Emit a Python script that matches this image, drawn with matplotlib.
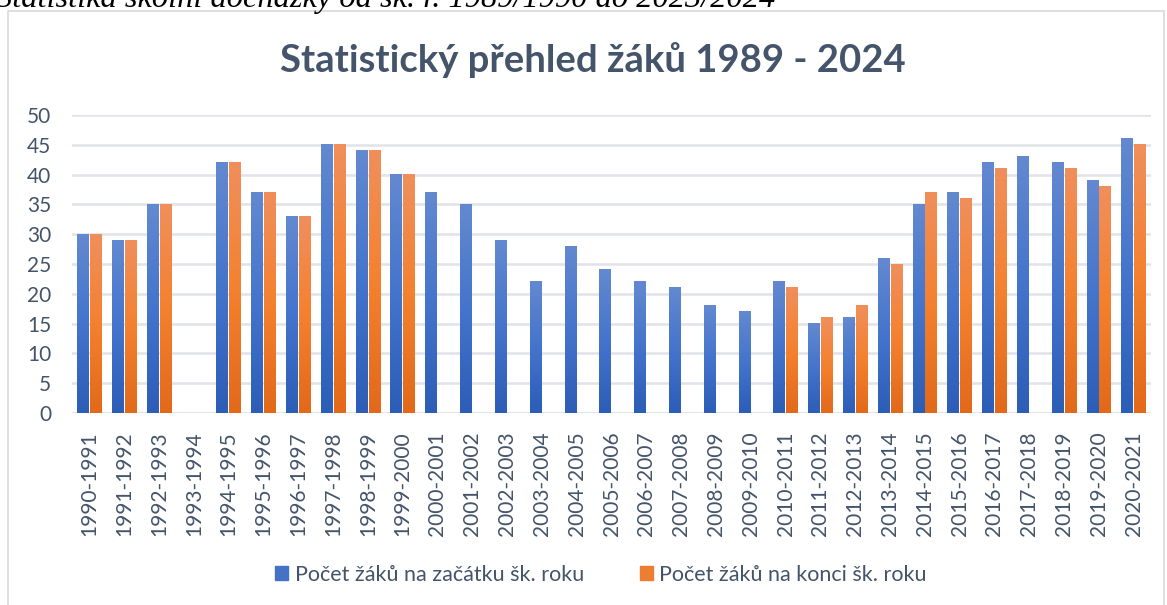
import numpy as np
import matplotlib.pyplot as plt
from matplotlib.patches import Rectangle
from matplotlib.colors import LinearSegmentedColormap

# school years
roky = ['1990-1991', '1991-1992', '1992-1993', '1993-1994', '1994-1995', '1995-1996',
        '1996-1997', '1997-1998', '1998-1999', '1999-2000', '2000-2001', '2001-2002',
        '2002-2003', '2003-2004', '2004-2005', '2005-2006', '2006-2007', '2007-2008',
        '2008-2009', '2009-2010', '2010-2011', '2011-2012', '2012-2013', '2013-2014',
        '2014-2015', '2015-2016', '2016-2017', '2017-2018', '2018-2019', '2019-2020',
        '2020-2021']
nan = np.nan
zacatek = [30, 29, 35, nan, 42, 37, 33, 45, 44, 40, 37, 35, 29, 22, 28, 24, 22, 21,
           18, 17, 22, 15, 16, 26, 35, 37, 42, 43, 42, 39, 46]
konec = [30, 29, 35, nan, 42, 37, 33, 45, 44, 40, nan, nan, nan, nan, nan, nan, nan, nan,
         nan, nan, 21, 16, 18, 25, 37, 36, 41, nan, 41, 38, 45]

lbl_zacatek = 'Počet žáků na začátku šk. roku'
lbl_konec = 'Počet žáků na konci šk. roku'
titulek = 'Statistický přehled žáků 1989 - 2024'
popis = 'Statistika školní docházky od šk. r. 1989/1990 do 2023/2024'

text_col = '#44546A'
grid_col = '#E0E3E8'

fig = plt.figure(figsize=(11.67, 6.05), dpi=100)
ax = fig.add_axes([0.0617, 0.3174, 0.9246, 0.4925])

x = np.arange(len(roky))
w = 0.33
b1 = ax.bar(x - 0.185, zacatek, w, color='#4472C4', zorder=2)
b2 = ax.bar(x + 0.185, konec, w, color='#ED7D31', zorder=2)

# excel-like vertical gradient inside bars
cm_blue = LinearSegmentedColormap.from_list('b', ['#2C5DB7', '#4474CC', '#6389D0'])
cm_orng = LinearSegmentedColormap.from_list('o', ['#E2691A', '#F4812F', '#F08F5C'])
grad = np.linspace(0, 1, 256).reshape(-1, 1)
for bars, cm in ((b1, cm_blue), (b2, cm_orng)):
    for p in bars:
        h = p.get_height()
        if not np.isfinite(h) or h == 0:
            continue
        x0 = p.get_x()
        ax.imshow(grad, cmap=cm, origin='lower', aspect='auto', zorder=3,
                  extent=(x0, x0 + p.get_width(), 0, h))
        p.set_visible(False)

ax.set_xlim(-0.5, len(roky) - 0.5)
ax.set_ylim(0, 50)
ax.set_yticks(range(0, 51, 5))
ax.set_xticks(x)
ax.set_xticklabels(roky, rotation=90)
ax.grid(axis='y', color=grid_col, linewidth=1.8, zorder=0)
for s in ax.spines.values():
    s.set_visible(False)
ax.axhline(0, color=grid_col, linewidth=1.8, zorder=1)
ax.tick_params(axis='both', length=0, labelcolor=text_col, labelsize=15)
ax.tick_params(axis='y', pad=15)
ax.tick_params(axis='x', pad=13)
for t in ax.get_xticklabels() + ax.get_yticklabels():
    t.set_fontfamily('Lato')

fig.text(0.508, 0.90, titulek, ha='center', va='center', fontsize=27.5,
         fontweight='bold', color=text_col, family='Lato')

# caption of the document above the chart (cut off at the top)
fig.text(-0.003, 1 - 7 / 605, popis, ha='left', va='baseline', fontsize=23.3,
         style='italic', family='Liberation Serif', color='black')

# chart frame
fig.patches.append(Rectangle((8 / 1167, -0.05), 1156 / 1167, 1 - 11 / 605 + 0.05,
                             transform=fig.transFigure, fill=False,
                             edgecolor='#D9D9D9', linewidth=1.2))

h1 = Rectangle((0, 0), 1, 1, color='#4472C4')
h2 = Rectangle((0, 0), 1, 1, color='#ED7D31')
leg = fig.legend([h1, h2], [lbl_zacatek, lbl_konec], loc='center',
                 bbox_to_anchor=(0.515, 0.05), ncol=2, frameon=False,
                 handlelength=0.6, handleheight=0.6, handletextpad=0.3,
                 columnspacing=2.6, prop={'family': 'Lato', 'size': 15.5})
for t in leg.get_texts():
    t.set_color(text_col)

fig.savefig('out.png', dpi=100)
